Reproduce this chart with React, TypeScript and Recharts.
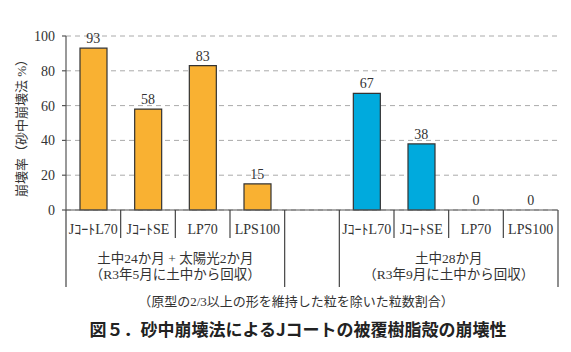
import React from "react";
import {
  ComposedChart,
  Bar,
  Line,
  XAxis,
  YAxis,
  CartesianGrid,
  Cell,
  LabelList,
} from "recharts";

const CATEGORIES = [
  "JｺｰﾄL70",
  "JｺｰﾄSE",
  "LP70",
  "LPS100",
  "",
  "JｺｰﾄL70",
  "JｺｰﾄSE",
  "LP70",
  "LPS100",
];
const RATES: (number | null)[] = [93, 58, 83, 15, null, 67, 38, 0, 0];
const GROUP_OF = [0, 0, 0, 0, -1, 1, 1, 1, 1];
const GROUPS = [
  { start: 0, count: 4, lines: ["土中24か月 + 太陽光2か月", "（R3年5月に土中から回収）"] },
  { start: 5, count: 4, lines: ["土中28か月", "（R3年9月に土中から回収）"] },
];
const Y_TICKS = [0, 20, 40, 60, 80, 100];
const GROUP_COLORS = ["#F9B132", "#00AADD"];

const W = 571;
const H = 352;
const Y_AXIS_W = 60;
const X_AXIS_H = 30;
const MARGIN = { top: 36, right: 13, left: 6, bottom: 112 };
const BAND = (W - MARGIN.left - Y_AXIS_W - MARGIN.right) / CATEGORIES.length;

const SERIF = "'Liberation Serif', 'Noto Sans CJK JP', serif";
const JP = "'Liberation Serif', 'Noto Sans CJK JP', sans-serif";

const data = CATEGORIES.map((name, i) => ({ key: `c${i}`, name, rate: RATES[i] }));

function CategoryTick(props: any) {
  const { x, y, index } = props;
  const g = GROUP_OF[index];
  if (g < 0) return null;
  const grp = GROUPS[g];
  const isStart = grp.start === index;
  const isEnd = grp.start + grp.count - 1 === index;
  const shortLen = 28;
  const longLen = 77;
  return (
    <g>
      {isStart && (
        <line x1={x - BAND / 2} x2={x - BAND / 2} y1={y} y2={y + longLen} stroke="#444" strokeWidth={1.2} />
      )}
      <line
        x1={x + BAND / 2}
        x2={x + BAND / 2}
        y1={y}
        y2={y + (isEnd ? longLen : shortLen)}
        stroke="#444"
        strokeWidth={1.2}
      />
      <text x={x} y={y + 24} textAnchor="middle" fontSize={14} fontFamily={JP} fill="#333">
        {CATEGORIES[index]}
      </text>
      {isStart &&
        grp.lines.map((t, k) => (
          <text
            key={k}
            x={x + ((grp.count - 1) * BAND) / 2}
            y={y + 53 + k * 16}
            textAnchor="middle"
            fontSize={13.5}
            fontFamily={JP}
            fill="#333"
          >
            {t}
          </text>
        ))}
    </g>
  );
}

export default function App() {
  return (
    <div style={{ position: "absolute", left: 0, top: 0, width: W, height: H, background: "#fff" }}>
      <ComposedChart width={W} height={H} data={data} margin={MARGIN}>
        <CartesianGrid vertical={false} strokeDasharray="5 4" stroke="#aaa" />
        <XAxis
          dataKey="key"
          height={X_AXIS_H}
          tickLine={false}
          tickSize={0}
          tickMargin={0}
          interval={0}
          stroke="#555"
          strokeWidth={1.2}
          tick={<CategoryTick />}
        />
        <YAxis
          domain={[0, 100]}
          ticks={Y_TICKS}
          tickSize={4}
          tickMargin={7}
          stroke="#555"
          strokeWidth={1.2}
          width={Y_AXIS_W}
          tick={{ fontSize: 14, fontFamily: SERIF, fill: "#333" }}
          label={{
            content: () => (
              <text
                x={21}
                y={125}
                transform="rotate(-90 21 125)"
                textAnchor="middle"
                dominantBaseline="central"
                fontSize={13}
                fontFamily={JP}
                fill="#333"
              >
                崩壊率（砂中崩壊法 %）
              </text>
            ),
          }}
        />
        <Bar dataKey="rate" barSize={27} stroke="#333" strokeWidth={1.2} isAnimationActive={false}>
          {data.map((d, i) => (
            <Cell key={d.key} fill={GROUP_COLORS[Math.max(GROUP_OF[i], 0)]} />
          ))}
        </Bar>
        <Line
          dataKey="rate"
          stroke="none"
          dot={false}
          activeDot={false}
          connectNulls={false}
          isAnimationActive={false}
        >
          <LabelList
            dataKey="rate"
            position="top"
            offset={5}
            style={{ fontSize: 14, fontFamily: SERIF, fill: "#333" }}
          />
        </Line>
      </ComposedChart>
      <div
        style={{
          position: "absolute",
          left: 0,
          width: 592,
          top: 291,
          textAlign: "center",
          fontSize: 13,
          fontFamily: JP,
          color: "#333",
        }}
      >
        （原型の2/3以上の形を維持した粒を除いた粒数割合）
      </div>
      <div
        style={{
          position: "absolute",
          left: 0,
          width: 596,
          top: 316,
          textAlign: "center",
          fontSize: 17,
          fontWeight: 700,
          fontFamily: "'Noto Sans CJK JP', sans-serif",
          color: "#222",
        }}
      >
        図５．砂中崩壊法によるJコートの被覆樹脂殻の崩壊性
      </div>
    </div>
  );
}
